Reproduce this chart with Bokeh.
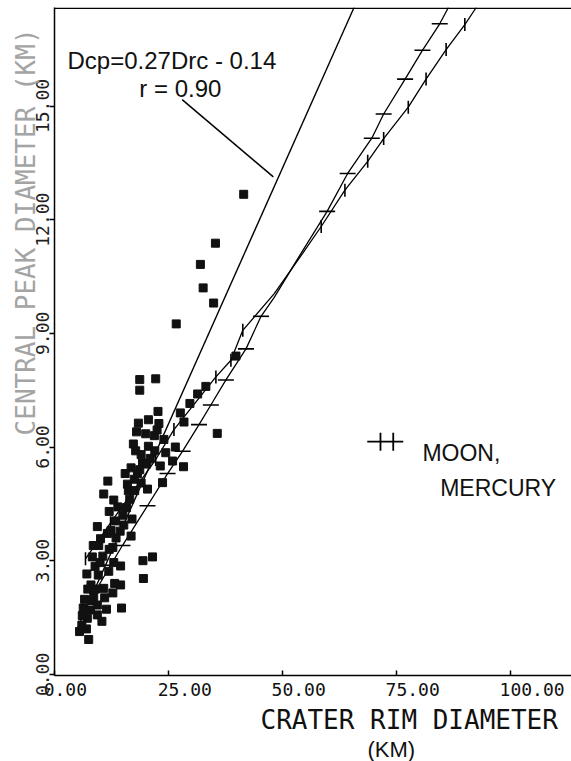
import math
from bokeh.plotting import figure
from bokeh.models import Range1d, FixedTicker, Span, Label, Title
from bokeh.embed import file_html
from bokeh.resources import INLINE

# ---------------- data ----------------
crater_drc = [41.5, 35.3, 32.0, 32.6, 34.9, 26.7, 18.7, 18.7, 22.2, 22.7,
              18.4, 20.6, 22.9, 21.9, 17.3, 17.8, 20.6, 19.3, 18.7, 24.4,
              25.9, 28.3, 35.7, 28.4, 29.7, 31.4, 33.2, 39.8, 11.7, 10.8,
              16.0, 17.5, 18.2, 23.7, 16.5, 13.9, 20.4, 17.0, 15.2, 14.4,
              9.4, 11.6, 12.4, 10.1, 9.7, 8.3, 10.6, 14.5, 19.4, 21.5,
              19.5, 9.6, 11.9, 14.5, 8.0, 10.8, 6.6, 8.6, 6.3, 9.4,
              11.4, 14.7, 7.9, 7.2, 9.4, 10.4, 6.1, 5.5, 7.5, 7.0,
              12.8, 13.4, 15.8, 19.0, 20.0, 24.0, 26.5, 27.6, 13.0, 8.9,
              12.0, 16.8, 21.0, 23.2, 7.1, 11.0, 13.2,
              6.0, 8.2, 9.0, 10.0, 12.0, 13.5, 15.0, 16.2, 17.6, 19.0,
              20.2, 22.0, 13.0, 15.5, 18.0, 8.5, 7.3, 12.8, 16.8, 22.5]
crater_dcp = [12.67, 11.38, 10.82, 10.20, 9.80, 9.25, 7.78, 7.50, 7.80, 6.94,
              6.63, 6.72, 6.62, 6.30, 6.08, 5.90, 6.02, 5.58, 5.40, 5.85,
              5.63, 5.48, 6.36, 6.66, 7.15, 7.40, 7.60, 8.40, 5.10, 4.76,
              5.02, 5.15, 5.30, 5.06, 4.62, 4.42, 4.89, 4.10, 3.94, 3.78,
              3.90, 3.72, 3.80, 3.58, 3.40, 3.10, 3.12, 2.86, 3.00, 3.10,
              2.53, 2.62, 2.72, 2.36, 2.36, 2.27, 1.98, 2.05, 1.75, 1.83,
              1.72, 1.75, 1.70, 1.48, 1.57, 1.40, 1.55, 1.13, 0.92, 1.20,
              3.35, 4.05, 4.40, 5.80, 6.35, 6.20, 6.00, 6.90, 2.95, 2.85,
              4.30, 5.45, 5.70, 5.50, 2.65, 2.02, 2.40,
              1.30, 1.95, 2.25, 2.95, 3.30, 3.60, 4.20, 4.85, 4.85, 5.05,
              5.55, 5.90, 4.60, 5.30, 6.40, 3.40, 2.25, 2.15, 3.65, 6.45]

# fitted line Dcp = 0.27 Drc - 0.14 (end points as drawn)
fit_drc = [5.0, 65.7]
fit_dcp = [1.21, 17.6]

# Moon trend (horizontal tick marks)
moon_line_drc = [9.0, 12.3, 14.9, 20.4, 24.8, 28.1, 31.7, 34.3, 37.6, 42.0, 45.3,
                 48.2, 53.5, 59.8, 64.3, 69.6, 72.2, 76.9, 80.7, 84.5, 86.4]
moon_line_dcp = [2.20, 2.88, 3.40, 4.45, 5.30, 5.89, 6.59, 7.11, 7.77, 8.59, 9.45,
                 9.95, 11.0, 12.22, 13.22, 14.15, 14.79, 15.71, 16.47, 17.17, 17.6]
moon_mark_drc = [12.3, 14.9, 20.4, 24.8, 28.1, 31.7, 34.3, 37.6, 42.0, 45.3,
                 59.8, 64.3, 69.6, 72.2, 76.9, 80.7, 84.5]
moon_mark_dcp = [2.88, 3.40, 4.45, 5.30, 5.89, 6.59, 7.11, 7.77, 8.59, 9.45,
                 12.22, 13.22, 14.15, 14.79, 15.71, 16.47, 17.17]

# Mercury trend (vertical tick marks)
merc_line_drc = [6.8, 12.3, 22.2, 26.2, 35.4, 38.7, 41.3, 48.2, 53.5, 58.5,
                 63.7, 68.7, 72.2, 77.6, 81.5, 85.9, 90.0, 92.5]
merc_line_dcp = [3.05, 4.00, 5.67, 6.46, 7.85, 8.29, 9.08, 10.05, 10.95, 11.82,
                 12.78, 13.54, 14.14, 14.97, 15.71, 16.49, 17.15, 17.6]
merc_mark_drc = [6.8, 12.3, 22.2, 26.2, 35.4, 38.7, 41.3, 58.5, 63.7, 68.7,
                 72.2, 77.6, 81.5, 85.9, 90.0]
merc_mark_dcp = [3.05, 4.00, 5.67, 6.46, 7.85, 8.29, 9.08, 11.82, 12.78, 13.54,
                 14.14, 14.97, 15.71, 16.49, 17.15]

x_ticks = [0, 25, 50, 75, 100]
x_tick_labels = ["0.00", "25.00", "50.00", "75.00", "100.00"]
y_ticks = [0, 3, 6, 9, 12, 15]
y_tick_labels = ["0.00", "3.00", "6.00", "9.00", "12.00", "15.00"]

# ---------------- figure ----------------
X_MIN, X_MAX = 0.0, 113.4
Y_MIN, Y_MAX = -0.03, 17.6
p = figure(width=571, height=761, output_backend="svg", toolbar_location=None,
           x_range=Range1d(X_MIN, X_MAX), y_range=Range1d(Y_MIN, Y_MAX),
           min_border_left=54, min_border_right=0, min_border_top=7,
           min_border_bottom=80)
p.grid.visible = False
p.outline_line_color = None
p.background_fill_color = "white"
p.border_fill_color = "white"

MONO = "DejaVu Sans Mono"
NBSP = "\u00a0"

# x axis: line + inward ticks; labels shifted so they start just left of the tick
xa = p.xaxis[0]
xa.ticker = FixedTicker(ticks=x_ticks)
xa.major_label_overrides = {t: NBSP * (len(s) - 2) + s for t, s in zip(x_ticks, x_tick_labels)}
xa.minor_tick_line_color = None
xa.major_tick_in = 5
xa.major_tick_out = 0
xa.axis_line_width = 1.5
xa.major_tick_line_width = 1.5
xa.major_label_standoff = 3
xa.major_label_text_font = MONO
xa.major_label_text_font_size = "18px"
xa.major_label_text_color = "#111111"

# y axis: outward ticks, labels reading upward
ya = p.yaxis[0]
ya.ticker = FixedTicker(ticks=y_ticks)
ya.major_label_overrides = {t: s for t, s in zip(y_ticks, y_tick_labels)}
ya.minor_tick_line_color = None
ya.major_tick_in = 0
ya.major_tick_out = 5
ya.axis_line_width = 1.5
ya.major_tick_line_width = 1.5
ya.major_label_orientation = "vertical"
ya.major_label_standoff = 0
ya.major_label_text_font = MONO
ya.major_label_text_font_size = "18px"
ya.major_label_text_color = "#222222"
ya.axis_label = NBSP * 14 + "CENTRAL PEAK DIAMETER (KM)"
ya.axis_label_standoff = -7
ya.axis_label_text_font = MONO
ya.axis_label_text_font_size = "26px"
ya.axis_label_text_font_style = "normal"
ya.axis_label_text_color = "#a4a4a4"

# x title (two lines, right of centre)
p.add_layout(Title(text="CRATER RIM DIAMETER", align="left", offset=206, standoff=0,
                   text_font=MONO, text_font_size="26px", text_font_style="normal",
                   text_color="#111111"), "below")
p.add_layout(Title(text="(KM)", align="left", offset=313, standoff=0,
                   text_font="Liberation Sans", text_font_size="22px",
                   text_font_style="normal", text_color="#111111"), "below")

# top border
p.add_layout(Span(location=Y_MAX - 0.02, dimension="width", line_color="black",
                  line_width=1.5))

# fitted line
p.line(fit_drc, fit_dcp, line_color="black", line_width=1.4)

# Moon and Mercury trends
p.line(moon_line_drc, moon_line_dcp, line_color="black", line_width=1.3)
p.line(merc_line_drc, merc_line_dcp, line_color="black", line_width=1.3)
p.scatter(moon_mark_drc, moon_mark_dcp, marker="dash", size=16,
          line_color="black", line_width=1.6)
p.scatter(merc_mark_drc, merc_mark_dcp, marker="dash", size=13, angle=math.pi / 2,
          line_color="black", line_width=1.6)

# craters
p.scatter(crater_drc, crater_dcp, marker="square", size=8,
          fill_color="#111111", line_color="#111111")

# regression annotation
p.add_layout(Label(x=2.85, y=16.19, text="Dcp=0.27Drc - 0.14", text_align="left",
                   text_baseline="alphabetic", text_font="Liberation Sans",
                   text_font_size="24px", text_color="#111111"))
p.add_layout(Label(x=18.6, y=15.46, text="r = 0.90", text_align="left",
                   text_baseline="alphabetic", text_font="Liberation Sans",
                   text_font_size="24px", text_color="#111111"))
lead_x = [28.0, 48.0]
lead_y = [15.17, 13.13]
p.line(lead_x, lead_y, line_color="black", line_width=1.5)

# legend
leg_x = [68.6, 76.5]
leg_y = [6.14, 6.14]
leg_tick_x = [71.5, 74.3]
leg_tick_y = [6.14, 6.14]
p.line(leg_x, leg_y, line_color="black", line_width=1.8)
p.scatter(leg_tick_x, leg_tick_y, marker="dash", size=18, angle=math.pi / 2,
          line_color="black", line_width=1.8)
p.add_layout(Label(x=80.7, y=5.83, text="MOON,", text_align="left",
                   text_baseline="alphabetic", text_font="Liberation Sans",
                   text_font_size="23px", text_color="#111111"))
p.add_layout(Label(x=84.6, y=4.92, text="MERCURY", text_align="left",
                   text_baseline="alphabetic", text_font="Liberation Sans",
                   text_font_size="23px", text_color="#111111"))

open("out.html", "w").write(file_html(p, INLINE))
